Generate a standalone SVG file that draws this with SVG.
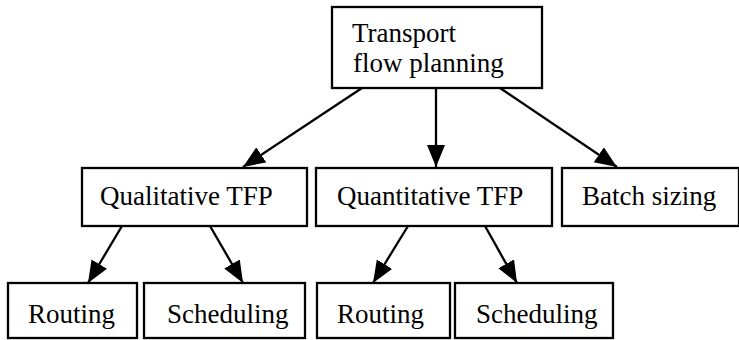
<svg xmlns="http://www.w3.org/2000/svg" width="739" height="340" viewBox="0 0 739 340">
  <style>
    .box { fill: #ffffff; stroke: #000000; stroke-width: 2.3; }
    .lbl { font-family: "Liberation Serif", "Times New Roman", serif; font-size: 27px; fill: #000000; }
    .edge { stroke: #000000; stroke-width: 2.3; fill: none; marker-end: url(#arrow); }
  </style>
  <defs>
    <marker id="arrow" markerUnits="userSpaceOnUse" markerWidth="24" markerHeight="20" refX="22" refY="9" orient="auto">
      <path d="M0,0 L22,9 L0,18 z" fill="#000000"/>
    </marker>
  </defs>
  <rect x="0" y="0" width="739" height="340" fill="#ffffff"/>

  <g id="connectors">
    <line class="edge" x1="362" y1="88" x2="243" y2="167"/>
    <line class="edge" x1="436" y1="88" x2="436" y2="167"/>
    <line class="edge" x1="500" y1="88" x2="617" y2="167"/>
    <line class="edge" x1="122" y1="226" x2="88" y2="283"/>
    <line class="edge" x1="210" y1="226" x2="243" y2="283"/>
    <line class="edge" x1="408" y1="226" x2="373" y2="283"/>
    <line class="edge" x1="485" y1="226" x2="517" y2="283"/>
  </g>

  <g id="transport-flow-planning">
    <rect class="box" x="332" y="7" width="210" height="81"/>
    <text class="lbl" x="352" y="42">Transport</text>
    <text class="lbl" x="353" y="72">flow planning</text>
  </g>

  <g id="qualitative-tfp">
    <rect class="box" x="82" y="168" width="225" height="58"/>
    <text class="lbl" x="100" y="205">Qualitative TFP</text>
  </g>

  <g id="quantitative-tfp">
    <rect class="box" x="316" y="168" width="236" height="58"/>
    <text class="lbl" x="337" y="205">Quantitative TFP</text>
  </g>

  <g id="batch-sizing">
    <rect class="box" x="562" y="168" width="177" height="58"/>
    <text class="lbl" x="582" y="205">Batch sizing</text>
  </g>

  <g id="routing-1">
    <rect class="box" x="8" y="283" width="129" height="55"/>
    <text class="lbl" x="28" y="323">Routing</text>
  </g>

  <g id="scheduling-1">
    <rect class="box" x="144" y="283" width="161" height="55"/>
    <text class="lbl" x="167" y="323">Scheduling</text>
  </g>

  <g id="routing-2">
    <rect class="box" x="317" y="283" width="133" height="55"/>
    <text class="lbl" x="337" y="323">Routing</text>
  </g>

  <g id="scheduling-2">
    <rect class="box" x="455" y="283" width="158" height="55"/>
    <text class="lbl" x="476" y="323">Scheduling</text>
  </g>
</svg>
